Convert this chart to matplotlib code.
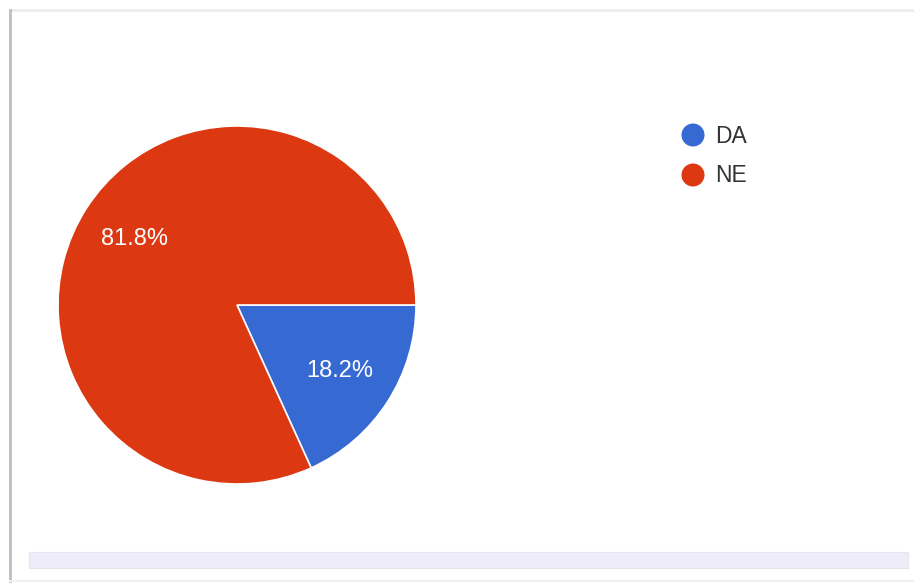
import matplotlib
matplotlib.use("Agg")
import matplotlib.pyplot as plt
from matplotlib.lines import Line2D
from matplotlib.patches import Rectangle, Ellipse

plt.rcParams['font.family'] = ['Liberation Sans', 'DejaVu Sans']

# podaci
odgovori = ["DA", "NE"]
postoci = [18.2, 81.8]
boje = ["#3669d2", "#dc3912"]

W, H = 914, 583
fig = plt.figure(figsize=(W / 100, H / 100), dpi=100)
fig.patch.set_facecolor("white")

# okvir oko grafa
fig.add_artist(Line2D([10 / W, 914 / W], [1 - 10 / H, 1 - 10 / H], color="#ececec", lw=2))
fig.add_artist(Line2D([10 / W, 10 / W], [1 - 581 / H, 1 - 10 / H], color="#bdbdbd", lw=2))
fig.add_artist(Line2D([10 / W, 914 / W], [1 - 581 / H, 1 - 581 / H], color="#f0f0f0", lw=1.5))
fig.add_artist(Rectangle((29 / W, 1 - 568 / H), (908 - 29) / W, 16 / H,
                         facecolor="#efecfa", edgecolor="#e6e4ee", lw=0.8))

# pita
cx, cy, r = 237, 305, 179
ax = fig.add_axes([(cx - r) / W, (H - cy - r) / H, 2 * r / W, 2 * r / H])
wedges, texts, auto = ax.pie(postoci, colors=boje, startangle=0, counterclock=False,
                             autopct="%.1f%%", pctdistance=0.68, radius=1,
                             wedgeprops=dict(edgecolor="white", linewidth=1.2),
                             textprops=dict(color="white", fontsize=17))
ax.set_xlim(-1, 1)
ax.set_ylim(-1, 1)
ax.set_aspect("auto")
ax.axis("off")

# legenda
for i, (lab, c) in enumerate(zip(odgovori, boje)):
    y = 135 + i * 40
    fig.add_artist(Ellipse((693 / W, 1 - y / H), 23 / W, 23 / H, facecolor=c, edgecolor="none"))
    fig.text(715 / W, 1 - (y + 1) / H, lab, fontsize=16.5, color="#333333", va="center", ha="left")

fig.savefig("out.png", dpi=100)
